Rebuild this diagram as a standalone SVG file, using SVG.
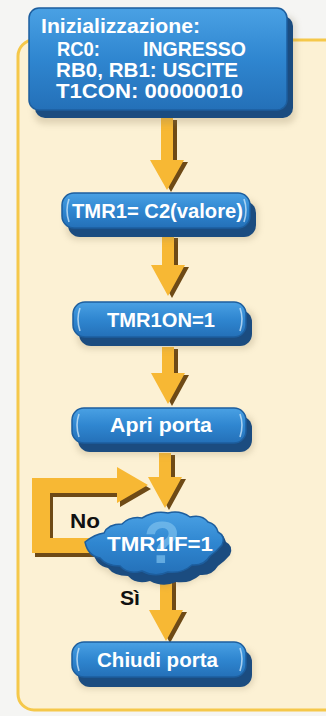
<svg xmlns="http://www.w3.org/2000/svg" width="326" height="716" viewBox="0 0 326 716">
<defs>
<linearGradient id="blue" x1="0" y1="0" x2="0" y2="1">
<stop offset="0" stop-color="#4aa1e4"/>
<stop offset="0.5" stop-color="#2f86d0"/>
<stop offset="1" stop-color="#2470b8"/>
</linearGradient>
<filter id="sh" x="-20%" y="-20%" width="140%" height="160%">
<feGaussianBlur stdDeviation="3"/>
</filter>
<style>
.face{fill:url(#blue);stroke:#1d5e9e;stroke-width:1.5}
.ext{fill:#1b4c80}
.shadow{fill:#8a7a5a;opacity:0.25;filter:url(#sh)}
.hl{fill:none;stroke:#cfe8fb;stroke-width:1.6;opacity:0.75}
.t{font-family:"Liberation Sans",Arial,sans-serif;font-weight:bold;font-size:20px;fill:#ffffff}
.lbl{font-family:"Liberation Sans",Arial,sans-serif;font-weight:bold;font-size:21px;fill:#111111}
.ay{fill:#f7b834}
.ab{fill:#6e4a16}
</style>
</defs>
<rect x="0" y="0" width="326" height="716" fill="#f5f5f3"/>
<rect x="18" y="40" width="330" height="670" rx="16" fill="#fcf1d4" stroke="#f5c84a" stroke-width="3"/>

<g id="connectors">
<g transform="translate(4,2)" class="ab"><path d="M161,118 L173,118 L173,160 L184,160 L167,190 L150,160 L161,160 Z"/></g>
<path class="ay" d="M161,118 L173,118 L173,160 L184,160 L167,190 L150,160 L161,160 Z"/>
<g transform="translate(4,2)" class="ab"><path d="M162,236 L174,236 L174,265 L185,265 L168,296 L151,265 L162,265 Z"/></g>
<path class="ay" d="M162,236 L174,236 L174,265 L185,265 L168,296 L151,265 L162,265 Z"/>
<g transform="translate(4,2)" class="ab"><path d="M162,347 L174,347 L174,373 L185,373 L168,404 L151,373 L162,373 Z"/></g>
<path class="ay" d="M162,347 L174,347 L174,373 L185,373 L168,404 L151,373 L162,373 Z"/>
<g transform="translate(4,2)" class="ab"><path d="M159,453 L171,453 L171,477 L182,477 L165,508 L148,477 L159,477 Z"/></g>
<path class="ay" d="M159,453 L171,453 L171,477 L182,477 L165,508 L148,477 L159,477 Z"/>
<g transform="translate(4,2)" class="ab"><path d="M160,580 L172,580 L172,610 L183,610 L166,641 L149,610 L160,610 Z"/></g>
<path class="ay" d="M160,580 L172,580 L172,610 L183,610 L166,641 L149,610 L160,610 Z"/>
<g transform="translate(3,4)" class="ab"><path d="M92,538 L50,538 L50,493 L117,493 L117,503 L148,485 L117,467 L117,478 L32,478 L32,553 L92,553 Z"/></g>
<path class="ay" d="M92,538 L50,538 L50,493 L117,493 L117,503 L148,485 L117,467 L117,478 L32,478 L32,553 L92,553 Z"/>
</g>

<g id="node-init">
<rect class="shadow" x="34" y="16" width="262" height="108" rx="10"/>
<rect class="ext" x="35" y="16" width="258" height="102" rx="10"/>
<rect class="face" x="29" y="8" width="258" height="102" rx="10"/>
<text class="t" x="41" y="33" textLength="159" lengthAdjust="spacingAndGlyphs">Inizializzazione:</text>
<text class="t" x="57" y="56" textLength="43" lengthAdjust="spacingAndGlyphs">RC0:</text>
<text class="t" x="143" y="56" textLength="103" lengthAdjust="spacingAndGlyphs">INGRESSO</text>
<text class="t" x="56" y="77" textLength="182" lengthAdjust="spacingAndGlyphs">RB0, RB1: USCITE</text>
<text class="t" x="56" y="98" textLength="187" lengthAdjust="spacingAndGlyphs">T1CON: 00000010</text>
</g>

<g id="node-tmr1">
<rect class="shadow" x="66" y="200" width="192" height="40" rx="12"/>
<rect class="ext" x="68" y="201" width="188" height="36" rx="12"/>
<rect class="face" x="62" y="193" width="188" height="35" rx="12"/>
<path class="hl" d="M244,199 Q248,210 244,222"/>
<path class="hl" d="M69,199 Q65,210 69,222"/>
<text class="t" x="72" y="218" textLength="171" lengthAdjust="spacingAndGlyphs">TMR1= C2(valore)</text>
</g>

<g id="node-tmr1on">
<rect class="shadow" x="77" y="309" width="178" height="40" rx="12"/>
<rect class="ext" x="79" y="310" width="173" height="36" rx="12"/>
<rect class="face" x="73" y="302" width="173" height="35" rx="12"/>
<path class="hl" d="M240,308 Q244,319 240,331"/>
<path class="hl" d="M80,308 Q76,319 80,331"/>
<text class="t" x="107" y="327" textLength="108" lengthAdjust="spacingAndGlyphs">TMR1ON=1</text>
</g>

<g id="node-apri">
<rect class="shadow" x="76" y="415" width="178" height="40" rx="12"/>
<rect class="ext" x="78" y="416" width="174" height="36" rx="12"/>
<rect class="face" x="72" y="408" width="174" height="35" rx="12"/>
<path class="hl" d="M240,414 Q244,425 240,437"/>
<path class="hl" d="M79,414 Q75,425 79,437"/>
<text class="t" x="110" y="432" textLength="102" lengthAdjust="spacingAndGlyphs">Apri porta</text>
</g>

<g id="node-decision">
<path class="shadow" transform="translate(6,12)" d="M85,542 Q95,534 104,533 Q108,524 122,524 Q130,516 142,518 Q155,510 168,513 Q180,510 190,517 Q202,514 208,522 Q216,524 218,532 Q226,536 222,545 Q216,552 210,556 Q204,566 192,565 Q182,574 168,572 Q155,578 142,571 Q128,575 120,566 Q106,566 100,558 Q88,556 85,542 Z"/>
<path class="ext" transform="translate(8,10)" d="M85,542 Q95,534 104,533 Q108,524 122,524 Q130,516 142,518 Q155,510 168,513 Q180,510 190,517 Q202,514 208,522 Q216,524 218,532 Q226,536 222,545 Q216,552 210,556 Q204,566 192,565 Q182,574 168,572 Q155,578 142,571 Q128,575 120,566 Q106,566 100,558 Q88,556 85,542 Z"/>
<path class="face" d="M85,542 Q95,534 104,533 Q108,524 122,524 Q130,516 142,518 Q155,510 168,513 Q180,510 190,517 Q202,514 208,522 Q216,524 218,532 Q226,536 222,545 Q216,552 210,556 Q204,566 192,565 Q182,574 168,572 Q155,578 142,571 Q128,575 120,566 Q106,566 100,558 Q88,556 85,542 Z"/>
<text x="162" y="563" text-anchor="middle" font-family="Liberation Sans, Arial, sans-serif" font-weight="bold" font-size="60" fill="#7cc0ee" opacity="0.7">?</text>
<text class="t" x="107" y="551" textLength="106" lengthAdjust="spacingAndGlyphs">TMR1IF=1</text>
</g>

<g id="node-chiudi">
<rect class="shadow" x="76" y="649" width="178" height="40" rx="12"/>
<rect class="ext" x="78" y="650" width="174" height="37" rx="12"/>
<rect class="face" x="72" y="642" width="174" height="35" rx="12"/>
<path class="hl" d="M240,648 Q244,659 240,671"/>
<path class="hl" d="M79,648 Q75,659 79,671"/>
<text class="t" x="97" y="667" textLength="121" lengthAdjust="spacingAndGlyphs">Chiudi porta</text>
</g>

<g id="labels">
<text class="lbl" x="70" y="528" textLength="30" lengthAdjust="spacingAndGlyphs">No</text>
<text class="lbl" x="120" y="605" textLength="20" lengthAdjust="spacingAndGlyphs">Sì</text>
</g>
</svg>
